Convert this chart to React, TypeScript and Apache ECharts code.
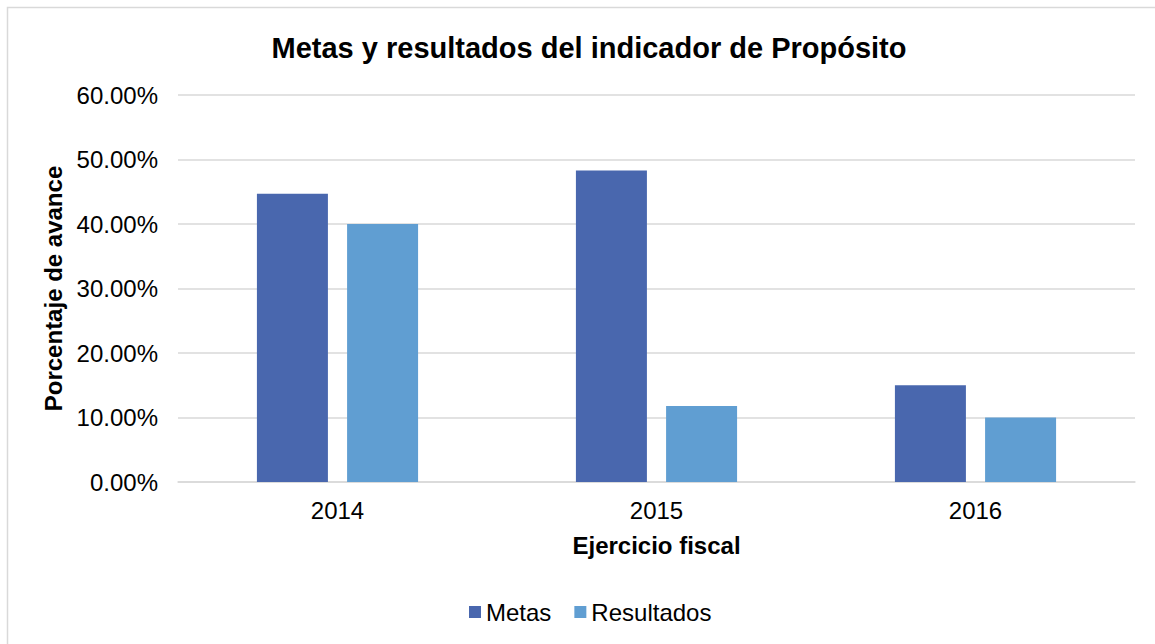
import React, { useEffect, useRef } from "react";
import * as echarts from "echarts";

const categories = ["2014", "2015", "2016"];
const metas = [0.447, 0.483, 0.15];
const resultados = [0.4, 0.118, 0.1];
const seriesNames = ["Metas", "Resultados"];
const titleText = "Metas y resultados del indicador de Propósito";
const xAxisTitle = "Ejercicio fiscal";
const yAxisTitle = "Porcentaje de avance";

const FONT = '"Liberation Sans", Arial, sans-serif';

export default function App() {
  const ref = useRef<HTMLDivElement>(null);
  useEffect(() => {
    if (!ref.current) return;
    const chart = echarts.init(ref.current, undefined, { renderer: "svg" });
    chart.setOption({
      animation: false,
      backgroundColor: "#ffffff",
      textStyle: { fontFamily: FONT },
      graphic: [
        {
          type: "rect",
          shape: { x: 7.5, y: 7.5, width: 1250, height: 750 },
          style: { fill: "none", stroke: "#d9d9d9", lineWidth: 1.5 },
          silent: true,
          z: -1,
        },
      ],
      title: {
        text: titleText,
        left: 584,
        top: 28,
        textAlign: "center",
        textStyle: { fontFamily: FONT, fontSize: 29, fontWeight: "bold", color: "#000000" },
      },
      legend: {
        data: seriesNames,
        left: 464,
        top: 595,
        itemWidth: 12,
        itemHeight: 12,
        itemGap: 23,
        icon: "rect",
        textStyle: { fontFamily: FONT, fontSize: 24, color: "#000000" },
      },
      grid: { left: 178, right: 20, top: 95, bottom: 162, containLabel: false },
      xAxis: {
        type: "category",
        data: categories,
        axisLine: { show: true, lineStyle: { color: "#d9d9d9", width: 1.5 } },
        axisTick: { show: false },
        axisLabel: { fontFamily: FONT, fontSize: 24, color: "#000000", margin: 16 },
        name: xAxisTitle,
        nameLocation: "middle",
        nameGap: 51,
        nameTextStyle: { fontFamily: FONT, fontSize: 24, fontWeight: "bold", color: "#000000" },
      },
      yAxis: {
        type: "value",
        min: 0,
        max: 0.6,
        interval: 0.1,
        axisLine: { show: false },
        axisTick: { show: false },
        splitLine: { show: true, lineStyle: { color: "#d9d9d9", width: 1.5 } },
        axisLabel: {
          fontFamily: FONT,
          fontSize: 24,
          color: "#000000",
          margin: 20,
          formatter: (v: number) => (v * 100).toFixed(2) + "%",
        },
        name: yAxisTitle,
        nameLocation: "middle",
        nameGap: 110,
        nameRotate: 90,
        nameTextStyle: { fontFamily: FONT, fontSize: 24, fontWeight: "bold", color: "#000000" },
      },
      series: [
        {
          name: seriesNames[0],
          type: "bar",
          data: metas,
          barWidth: 71,
          barGap: "27%",
          itemStyle: { color: "#4967ae" },
        },
        {
          name: seriesNames[1],
          type: "bar",
          data: resultados,
          barWidth: 71,
          barGap: "27%",
          itemStyle: { color: "#609ed2" },
        },
      ],
    });
    return () => chart.dispose();
  }, []);
  return (
    <div
      ref={ref}
      style={{ position: "absolute", left: 0, top: 0, width: 1155, height: 644 }}
    />
  );
}
